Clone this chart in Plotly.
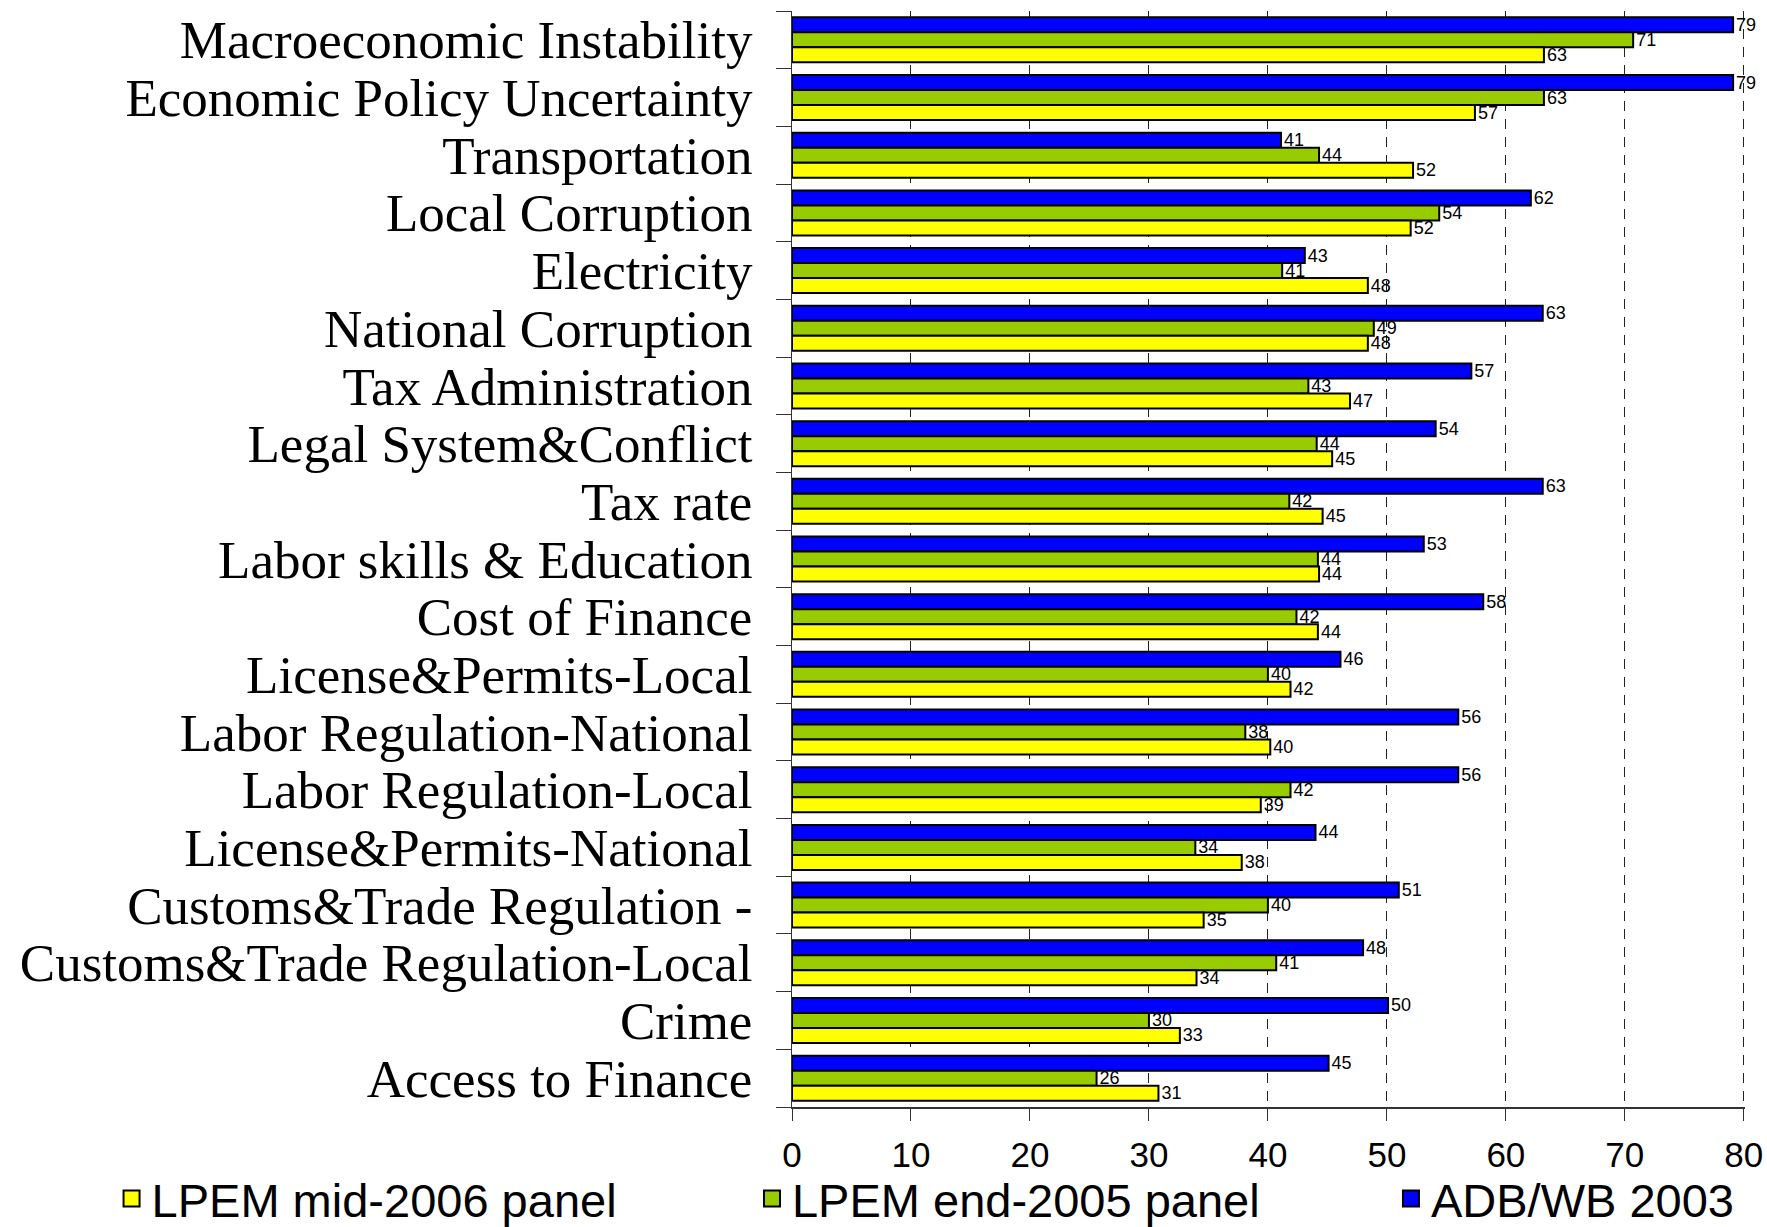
import plotly.graph_objects as go

categories = [
    "Macroeconomic Instability",
    "Economic Policy Uncertainty",
    "Transportation",
    "Local Corruption",
    "Electricity",
    "National Corruption",
    "Tax Administration",
    "Legal System&Conflict",
    "Tax rate",
    "Labor skills & Education",
    "Cost of Finance",
    "License&Permits-Local",
    "Labor Regulation-National",
    "Labor Regulation-Local",
    "License&Permits-National",
    "Customs&Trade Regulation -",
    "Customs&Trade Regulation-Local",
    "Crime",
    "Access to Finance",
]

adb_wb_2003 = [79.1, 79.1, 41.1, 62.1, 43.1, 63.1, 57.1, 54.1, 63.1, 53.1,
               58.1, 46.1, 56.0, 56.0, 44.0, 51.0, 48.0, 50.1, 45.1]
lpem_end_2005 = [70.7, 63.2, 44.3, 54.4, 41.2, 48.9, 43.4, 44.1, 41.8, 44.2,
                 42.4, 40.0, 38.1, 41.9, 33.9, 40.0, 40.7, 30.0, 25.6]
lpem_mid_2006 = [63.2, 57.4, 52.2, 52.0, 48.4, 48.4, 46.9, 45.4, 44.6, 44.3,
                 44.2, 41.9, 40.2, 39.4, 37.8, 34.6, 34.0, 32.6, 30.8]

series_names = ["ADB/WB 2003", "LPEM end-2005 panel", "LPEM mid-2006 panel"]
series_colors = ["#0000FF", "#99CC00", "#FFFF00"]
series_values = [adb_wb_2003, lpem_end_2005, lpem_mid_2006]
legend_ids = ["legend3", "legend2", "legend"]

x_ticks = [0, 10, 20, 30, 40, 50, 60, 70, 80]

positions = list(range(len(categories)))
boundaries = [p - 0.5 for p in positions] + [positions[-1] + 0.5]

fig = go.Figure()
for name, color, vals in zip(series_names, series_colors, series_values):
    fig.add_trace(go.Bar(
        x=vals, y=positions, orientation="h", name=name,
        marker=dict(color=color, line=dict(color="black", width=2)),
        texttemplate="%{x:.0f}", textposition="outside",
        textfont=dict(family="Liberation Sans, Arial", size=18, color="black"),
        constraintext="none", cliponaxis=False, showlegend=False,
    ))

# legend entries, one legend box per series
for name, color, lid in zip(series_names, series_colors, legend_ids):
    fig.add_trace(go.Scatter(
        x=[None], y=[None], mode="markers", name=name, legend=lid,
        marker=dict(symbol="square", size=16, color=color,
                    line=dict(color="black", width=2)),
    ))

legend_font = dict(family="Liberation Sans, Arial", size=47, color="black")
legend_common = dict(orientation="h", y=-0.084, yanchor="middle",
                     xanchor="left", font=legend_font, itemwidth=30,
                     bgcolor="rgba(0,0,0,0)")

fig.update_layout(
    width=1767, height=1227,
    margin=dict(l=792, r=22, t=11, b=120, autoexpand=False),
    paper_bgcolor="white", plot_bgcolor="white",
    barmode="group", bargap=0.22, bargroupgap=0,
    showlegend=True,
    legend=dict(x=-0.714, **legend_common),
    legend2=dict(x=-0.042, **legend_common),
    legend3=dict(x=0.6285, **legend_common),
)

fig.update_xaxes(
    range=[0, 80.1], tickvals=x_ticks, ticktext=[str(v) for v in x_ticks],
    showgrid=True, gridcolor="#222222", gridwidth=1, griddash="10px,8px",
    showline=True, linecolor="#333333", linewidth=2,
    ticks="outside", ticklen=12, tickcolor="#333333", tickwidth=1,
    tickfont=dict(family="Liberation Sans, Arial", size=35, color="black"),
    ticklabelstandoff=4, ticklabeloverflow="allow", zeroline=False,
)

fig.update_yaxes(
    range=[positions[-1] + 0.5, positions[0] - 0.5],
    tickmode="array", tickvals=positions, ticktext=categories,
    ticks="", showgrid=False, zeroline=False,
    showline=True, linecolor="#333333", linewidth=1,
    tickfont=dict(family="Liberation Serif, Times New Roman", size=53, color="black"),
    ticklabelstandoff=28,
    minor=dict(tickmode="array", tickvals=boundaries, ticks="outside",
               ticklen=15, tickcolor="#333333", tickwidth=1, showgrid=False),
)

fig.write_html(
    "out.html",
    config={"displayModeBar": False},
    post_script="document.body.style.margin='0px';document.body.style.overflow='hidden';",
)
